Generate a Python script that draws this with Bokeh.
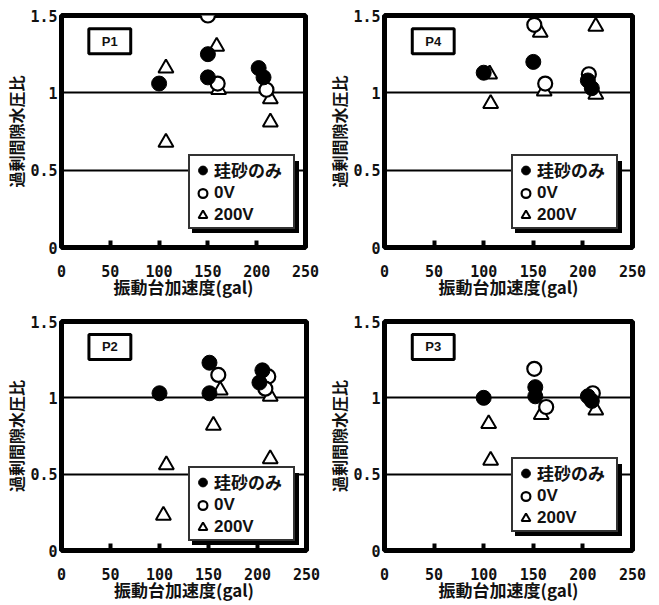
from bokeh.plotting import figure
from bokeh.layouts import column, row
from bokeh.models import FixedTicker, Legend, LegendItem, Label, Title, Range1d
from bokeh.embed import file_html
from bokeh.resources import INLINE

# ---------------- data ----------------
x_ticks = [0, 50, 100, 150, 200, 250]
x_tick_labels = ["0", "50", "100", "150", "200", "250"]
y_ticks = [0, 0.5, 1, 1.5]
y_tick_labels = ["0", "0.5", "1", "1.5"]
x_title = "振動台加速度(gal)"
y_title = "過剰間隙水圧比"
series_names = ["珪砂のみ", "0V", "200V"]
panel_names = ["P1", "P4", "P2", "P3"]

# P1
p1_sand_x = [100, 150, 150, 202, 207]
p1_sand_y = [1.06, 1.25, 1.10, 1.16, 1.10]
p1_0v_x = [150, 160, 210]
p1_0v_y = [1.50, 1.06, 1.02]
p1_200v_x = [107, 107, 159, 161, 214, 214]
p1_200v_y = [1.16, 0.68, 1.30, 1.02, 0.96, 0.81]

# P4
p4_sand_x = [100, 150, 205, 209]
p4_sand_y = [1.13, 1.20, 1.08, 1.03]
p4_0v_x = [151, 162, 206]
p4_0v_y = [1.44, 1.06, 1.12]
p4_200v_x = [106, 107, 157, 161, 213, 213]
p4_200v_y = [1.12, 0.93, 1.39, 1.01, 1.43, 0.99]

# P2
p2_sand_x = [100, 151, 151, 205, 202]
p2_sand_y = [1.03, 1.23, 1.03, 1.18, 1.10]
p2_0v_x = [160, 211, 208]
p2_0v_y = [1.15, 1.14, 1.06]
p2_200v_x = [107, 104, 155, 162, 213, 213]
p2_200v_y = [0.56, 0.23, 0.82, 1.05, 1.01, 0.60]

# P3
p3_sand_x = [100, 152, 152, 205, 209]
p3_sand_y = [1.00, 1.07, 1.01, 1.01, 0.98]
p3_0v_x = [151, 163, 210]
p3_0v_y = [1.19, 0.94, 1.03]
p3_200v_x = [105, 107, 158, 213]
p3_200v_y = [0.83, 0.59, 0.89, 0.92]

# ---------------- styling ----------------
NUM_FONT = "DejaVu Sans Mono"
JP_FONT = "Noto Sans CJK JP"
LEG_FONT = "Liberation Sans, Noto Sans CJK JP"


def make_panel(name, sand, v0, v200, w, h, bl, br, bt, bb, tick_so, lab_so, leg_y):
    p = figure(title=None, output_backend="svg", toolbar_location=None,
               width=w, height=h,
               min_border_left=bl, min_border_right=br,
               min_border_top=bt, min_border_bottom=bb,
               x_range=Range1d(0, 250), y_range=Range1d(0, 1.5))
    p.background_fill_color = "white"
    p.border_fill_color = "white"
    p.outline_line_color = "black"
    p.outline_line_width = 5

    # axes
    xa = p.xaxis[0]
    xa.ticker = FixedTicker(ticks=x_ticks)
    xa.major_label_overrides = dict(zip(x_ticks, x_tick_labels))
    xa.axis_line_color = None
    xa.major_tick_in = 7
    xa.major_tick_out = 0
    xa.major_tick_line_width = 4
    xa.major_tick_line_color = "black"
    xa.minor_tick_line_color = None
    xa.major_label_standoff = tick_so
    xa.major_label_text_font = NUM_FONT
    xa.major_label_text_font_size = "15px"
    xa.major_label_text_font_style = "bold"
    xa.major_label_text_color = "#111111"
    xa.axis_label = x_title
    xa.axis_label_text_font = JP_FONT
    xa.axis_label_text_font_size = "17px"
    xa.axis_label_text_font_style = "bold"
    xa.axis_label_text_color = "#111111"
    xa.axis_label_standoff = lab_so

    ya = p.yaxis[0]
    ya.ticker = FixedTicker(ticks=y_ticks)
    ya.major_label_overrides = dict(zip(y_ticks, y_tick_labels))
    ya.axis_line_color = None
    ya.major_tick_in = 0
    ya.major_tick_out = 0
    ya.minor_tick_line_color = None
    ya.major_label_standoff = 4
    ya.major_label_text_font = NUM_FONT
    ya.major_label_text_font_size = "15px"
    ya.major_label_text_font_style = "bold"
    ya.major_label_text_color = "#111111"

    p.add_layout(Title(text=y_title, align="center", offset=51, standoff=0,
                       text_font=JP_FONT, text_font_size="16px",
                       text_font_style="bold", text_color="#111111"), "left")

    # grid
    p.xgrid.grid_line_color = None
    p.ygrid.ticker = FixedTicker(ticks=[0.5, 1])
    p.ygrid.grid_line_color = "black"
    p.ygrid.grid_line_width = 2

    # data
    r200 = p.scatter(v200[0], v200[1], marker="triangle", size=15,
                     fill_color="white", line_color="black", line_width=2)
    r0 = p.scatter(v0[0], v0[1], marker="circle", size=14,
                   fill_color="white", line_color="black", line_width=2.2)
    rs = p.scatter(sand[0], sand[1], marker="circle", size=15,
                   fill_color="black", line_color="black", line_width=1)

    common = dict(orientation="vertical", padding=1, spacing=0,
                  margin=0, glyph_width=23, glyph_height=22, label_height=22,
                  label_width=78, label_standoff=0,
                  label_text_font=LEG_FONT, label_text_font_size="17px",
                  label_text_font_style="bold", label_text_color="#111111")

    shadow = Legend(items=[LegendItem(label=" ", renderers=[rs]),
                           LegendItem(label=" ", renderers=[r0]),
                           LegendItem(label=" ", renderers=[r200])],
                    location=(131, leg_y - 4),
                    background_fill_color="black", background_fill_alpha=1.0,
                    border_line_color="black", border_line_width=2,
                    border_line_alpha=1.0, **common)
    p.add_layout(shadow, "center")
    leg = Legend(items=[LegendItem(label=series_names[0], renderers=[rs]),
                        LegendItem(label=series_names[1], renderers=[r0]),
                        LegendItem(label=series_names[2], renderers=[r200])],
                 location=(127, leg_y),
                 background_fill_color="white", background_fill_alpha=1.0,
                 border_line_color="#333333", border_line_width=2,
                 border_line_alpha=1.0, **common)
    p.add_layout(leg, "center")

    # panel tag
    p.add_layout(Label(x=28, y=1.415, text=name, anchor="top_left",
                       text_font="Liberation Sans", text_font_size="13px",
                       text_font_style="bold", text_color="#111111",
                       padding=(13, 5), border_line_color="black",
                       border_line_width=3, background_fill_color="white"))
    return p


p1 = make_panel(panel_names[0], (p1_sand_x, p1_sand_y), (p1_0v_x, p1_0v_y),
                (p1_200v_x, p1_200v_y), 323, 305, 61, 18, 15, 58, 17, -6, 18)
p4 = make_panel(panel_names[1], (p4_sand_x, p4_sand_y), (p4_0v_x, p4_0v_y),
                (p4_200v_x, p4_200v_y), 336, 305, 61, 27, 15, 58, 17, -6, 18)
p2 = make_panel(panel_names[2], (p2_sand_x, p2_sand_y), (p2_0v_x, p2_0v_y),
                (p2_200v_x, p2_200v_y), 323, 299, 61, 17, 16, 54, 17, -6, 9)
p3 = make_panel(panel_names[3], (p3_sand_x, p3_sand_y), (p3_0v_x, p3_0v_y),
                (p3_200v_x, p3_200v_y), 336, 299, 61, 27, 16, 54, 17, -6, 18)

layout = column(row(p1, p4), row(p2, p3))
open("out.html", "w").write(file_html(layout, INLINE))
